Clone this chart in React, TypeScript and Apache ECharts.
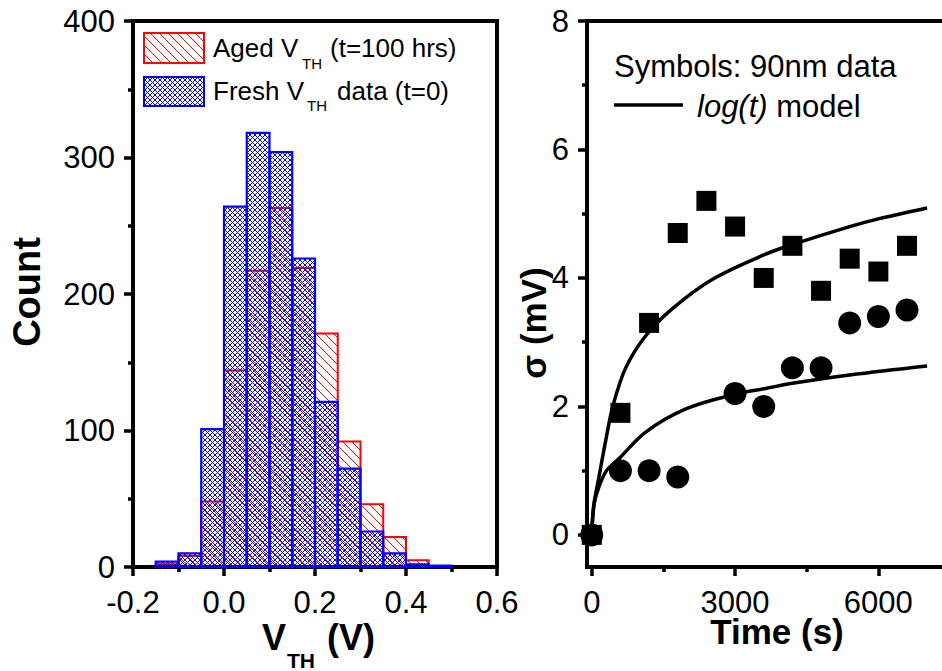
import React, { useEffect, useRef } from 'react';
import * as echarts from 'echarts';

// ---------- Data ----------
// Histogram bin edges (V) and counts per bin
const binEdges = [-0.15, -0.1, -0.05, 0, 0.05, 0.1, 0.15, 0.2, 0.25, 0.3, 0.35, 0.4, 0.45, 0.5];
const freshCounts = [4, 10, 101, 264, 318, 304, 226, 121, 72, 26, 10, 2, 1];
const agedCounts = [2, 8, 48, 144, 217, 263, 219, 171, 92, 46, 22, 5, 0];

// Axis ticks
const vthTicks = [-0.2, 0, 0.2, 0.4, 0.6];
const countTicks = [0, 100, 200, 300, 400];
const timeTicks = [0, 3000, 6000];
const timeMinorTicks = [1500, 4500];
const timeRange = [-100, 7500];
const sigmaTicks = [0, 2, 4, 6, 8];
const sigmaMinorTicks = [1, 3, 5, 7];
const sigmaRange = [-0.5, 8];

// Scatter data (90nm)
const squareTimes = [0, 600, 1200, 1800, 2400, 3000, 3600, 4200, 4800, 5400, 6000, 6600];
const squareSigma = [0, 1.9, 3.3, 4.7, 5.2, 4.8, 4.0, 4.5, 3.8, 4.3, 4.1, 4.5];
const circleTimes = [0, 600, 1200, 1800, 3000, 3600, 4200, 4800, 5400, 6000, 6600];
const circleSigma = [0, 1.0, 1.0, 0.9, 2.2, 2.0, 2.6, 2.6, 3.3, 3.4, 3.5];

// log(t) model curves
const upperModelT = [0, 40, 150, 300, 440, 710, 1130, 1700, 2530, 3640, 4200, 5400, 6000, 7020];
const upperModelSigma = [0, 0.45, 0.9, 1.5, 2.0, 2.6, 3.1, 3.53, 3.98, 4.37, 4.52, 4.8, 4.92, 5.09];
const lowerModelT = [0, 30, 85, 290, 560, 1130, 1970, 3010, 3640, 4200, 5400, 7020];
const lowerModelSigma = [0, 0.36, 0.6, 0.98, 1.18, 1.6, 1.96, 2.19, 2.28, 2.36, 2.49, 2.63];

const FONT = '"Liberation Sans", Arial, Helvetica, sans-serif';

function hatchCanvas(size: number, color: string, cross: boolean) {
  const c = document.createElement('canvas');
  c.width = size;
  c.height = size;
  const ctx = c.getContext('2d')!;
  ctx.fillStyle = color;
  for (let i = 0; i < size; i++) {
    ctx.fillRect(i, i, 1, 1);
    if (cross) ctx.fillRect(size - 1 - i, i, 1, 1);
  }
  return c;
}

export default function App() {
  const ref = useRef<HTMLDivElement>(null);

  useEffect(() => {
    if (!ref.current) return;
    const chart = echarts.init(ref.current, undefined, { renderer: 'svg' });

    const redCanvas = hatchCanvas(9, '#ff0000', false);
    const blueCanvas = hatchCanvas(5, '#0000ff', true);
    const redPattern: any = { image: redCanvas, repeat: 'repeat', imageWidth: 9, imageHeight: 9 };
    const bluePattern: any = { image: blueCanvas, repeat: 'repeat', imageWidth: 5, imageHeight: 5 };

    const agedData = agedCounts.map((c, i) => [binEdges[i], binEdges[i + 1], c]);
    const freshData = freshCounts.map((c, i) => [binEdges[i], binEdges[i + 1], c]);

    const makeRender = (fill: any, stroke: string, lw: number) => (params: any, api: any) => {
      const x0 = api.value(0);
      const x1 = api.value(1);
      const c = api.value(2);
      if (!c) return null;
      const p0 = api.coord([x0, c]);
      const p1 = api.coord([x1, 0]);
      return {
        type: 'rect',
        shape: { x: p0[0], y: p0[1], width: p1[0] - p0[0], height: p1[1] - p0[1] },
        style: { fill, stroke, lineWidth: lw },
      };
    };

    const axisLineStyle = { color: '#000', width: 4 };
    const tickStyle = { color: '#000', width: 3.5 };
    const labelStyle = { fontSize: 31, color: '#000', fontFamily: FONT };

    const gridBase = {
      show: true,
      borderColor: '#000',
      borderWidth: 4,
      backgroundColor: 'transparent',
      containLabel: false,
      outerBoundsMode: 'none',
    };

    const txt = (x: number, y: number, text: string, size: number, extra: any = {}, rotation = 0) => ({
      type: 'text',
      x,
      y,
      rotation,
      z: 100,
      style: {
        text,
        fontSize: size,
        fontFamily: FONT,
        fill: '#000',
        align: 'left',
        verticalAlign: 'middle',
        ...extra,
      },
    });

    const option: any = {
      animation: false,
      backgroundColor: '#ffffff',
      grid: [
        { ...gridBase, left: 133, top: 21, width: 364, height: 546 },
        { ...gridBase, left: 587, top: 21, width: 363, height: 546 },
      ],
      xAxis: [
        {
          gridIndex: 0,
          type: 'value',
          position: 'bottom',
          min: vthTicks[0],
          max: vthTicks[vthTicks.length - 1],
          interval: vthTicks[1] - vthTicks[0],
          axisLine: { show: true, onZero: false, lineStyle: axisLineStyle },
          axisTick: { show: true, inside: false, length: 9, lineStyle: tickStyle },
          minorTick: { show: true, splitNumber: 2, length: 5, lineStyle: tickStyle },
          splitLine: { show: false },
          minorSplitLine: { show: false },
          axisLabel: { ...labelStyle, margin: 23, lineHeight: 24, formatter: (v: number) => v.toFixed(1) },
        },
        {
          gridIndex: 1,
          type: 'value',
          position: 'bottom',
          min: timeRange[0],
          max: timeRange[1],
          axisLine: { show: true, onZero: false, lineStyle: axisLineStyle },
          axisTick: { show: true, inside: false, length: 9, lineStyle: tickStyle, customValues: timeTicks },
          splitLine: { show: false },
          axisLabel: {
            ...labelStyle,
            margin: 23,
            lineHeight: 24,
            customValues: timeTicks,
            formatter: (v: number) => String(v),
          },
        },
        {
          gridIndex: 1,
          type: 'value',
          position: 'bottom',
          offset: 0,
          min: timeRange[0],
          max: timeRange[1],
          axisLine: { show: false, onZero: false },
          axisTick: { show: true, inside: false, length: 5, lineStyle: tickStyle, customValues: timeMinorTicks },
          splitLine: { show: false },
          axisLabel: { show: false },
        },
      ],
      yAxis: [
        {
          gridIndex: 0,
          type: 'value',
          position: 'left',
          min: countTicks[0],
          max: countTicks[countTicks.length - 1],
          interval: countTicks[1] - countTicks[0],
          axisLine: { show: true, onZero: false, lineStyle: axisLineStyle },
          axisTick: { show: true, inside: false, length: 9, lineStyle: tickStyle },
          minorTick: { show: true, splitNumber: 2, length: 5, lineStyle: tickStyle },
          splitLine: { show: false },
          minorSplitLine: { show: false },
          axisLabel: { ...labelStyle, margin: 18 },
        },
        {
          gridIndex: 1,
          type: 'value',
          position: 'left',
          min: sigmaRange[0],
          max: sigmaRange[1],
          axisLine: { show: true, onZero: false, lineStyle: axisLineStyle },
          axisTick: { show: true, inside: false, length: 9, lineStyle: tickStyle, customValues: sigmaTicks },
          splitLine: { show: false },
          axisLabel: { ...labelStyle, margin: 18, customValues: sigmaTicks },
        },
        {
          gridIndex: 1,
          type: 'value',
          position: 'left',
          offset: 0,
          min: sigmaRange[0],
          max: sigmaRange[1],
          axisLine: { show: false, onZero: false },
          axisTick: { show: true, inside: false, length: 5, lineStyle: tickStyle, customValues: sigmaMinorTicks },
          splitLine: { show: false },
          axisLabel: { show: false },
        },
      ],
      series: [
        {
          type: 'custom',
          name: 'Aged',
          xAxisIndex: 0,
          yAxisIndex: 0,
          data: agedData,
          encode: { x: [0, 1], y: 2 },
          renderItem: makeRender(redPattern, '#ff0000', 2),
          z: 2,
        },
        {
          type: 'custom',
          name: 'Fresh',
          xAxisIndex: 0,
          yAxisIndex: 0,
          data: freshData,
          encode: { x: [0, 1], y: 2 },
          renderItem: makeRender(bluePattern, '#0000ff', 2.2),
          z: 3,
        },
        {
          type: 'scatter',
          xAxisIndex: 1,
          yAxisIndex: 1,
          symbol: 'circle',
          symbolSize: 23,
          itemStyle: { color: '#000', opacity: 1 },
          data: circleTimes.map((t, i) => [t, circleSigma[i]]),
          z: 3,
        },
        {
          type: 'scatter',
          xAxisIndex: 1,
          yAxisIndex: 1,
          symbol: 'rect',
          symbolSize: 20,
          itemStyle: { color: '#000', opacity: 1 },
          data: squareTimes.map((t, i) => [t, squareSigma[i]]),
          z: 4,
        },
        {
          type: 'line',
          xAxisIndex: 1,
          yAxisIndex: 1,
          showSymbol: false,
          smooth: 0.35,
          lineStyle: { color: '#000', width: 3.5 },
          data: upperModelT.map((t, i) => [t, upperModelSigma[i]]),
          z: 5,
        },
        {
          type: 'line',
          xAxisIndex: 1,
          yAxisIndex: 1,
          showSymbol: false,
          smooth: 0.35,
          lineStyle: { color: '#000', width: 3.5 },
          data: lowerModelT.map((t, i) => [t, lowerModelSigma[i]]),
          z: 5,
        },
      ],
      graphic: [
        // Left legend
        {
          type: 'rect',
          z: 100,
          shape: { x: 144, y: 33, width: 60, height: 30 },
          style: { fill: redPattern, stroke: '#ff0000', lineWidth: 2 },
        },
        {
          type: 'rect',
          z: 100,
          shape: { x: 144, y: 77, width: 60, height: 29 },
          style: { fill: bluePattern, stroke: '#0000ff', lineWidth: 2 },
        },
        txt(213, 48, 'Aged V', 26),
        txt(302, 63, 'TH', 15),
        txt(330, 48, '(t=100 hrs)', 26),
        txt(213, 91, 'Fresh V', 26),
        txt(307, 105, 'TH', 15),
        txt(337, 91, 'data (t=0)', 26),
        // Right legend
        txt(614, 66, 'Symbols: 90nm data', 31),
        {
          type: 'line',
          z: 100,
          shape: { x1: 614, y1: 105, x2: 683, y2: 105 },
          style: { stroke: '#000', lineWidth: 3.5 },
        },
        txt(697, 106, '{i|log(t)} model', 31, {
          rich: { i: { fontStyle: 'italic', fontSize: 31, fontFamily: FONT, fill: '#000' } },
        }),
        // Axis titles
        txt(27, 292, 'Count', 38, { fontWeight: 'bold', align: 'center' }, Math.PI / 2),
        txt(262, 637, 'V', 36, { fontWeight: 'bold', lineHeight: 28 }),
        txt(287, 660, 'TH', 21, { fontWeight: 'bold' }),
        txt(327, 637, '(V)', 36, { fontWeight: 'bold', lineHeight: 28 }),
        txt(777, 631, 'Time (s)', 35, { fontWeight: 'bold', align: 'center', lineHeight: 26 }),
        txt(533, 323, 'σ (mV)', 35, { fontWeight: 'bold', align: 'center' }, Math.PI / 2),
      ],
    };

    chart.setOption(option);
    return () => {
      chart.dispose();
    };
  }, []);

  return (
    <div
      ref={ref}
      style={{ position: 'fixed', left: 0, top: 0, width: 942, height: 671, background: '#fff' }}
    />
  );
}
